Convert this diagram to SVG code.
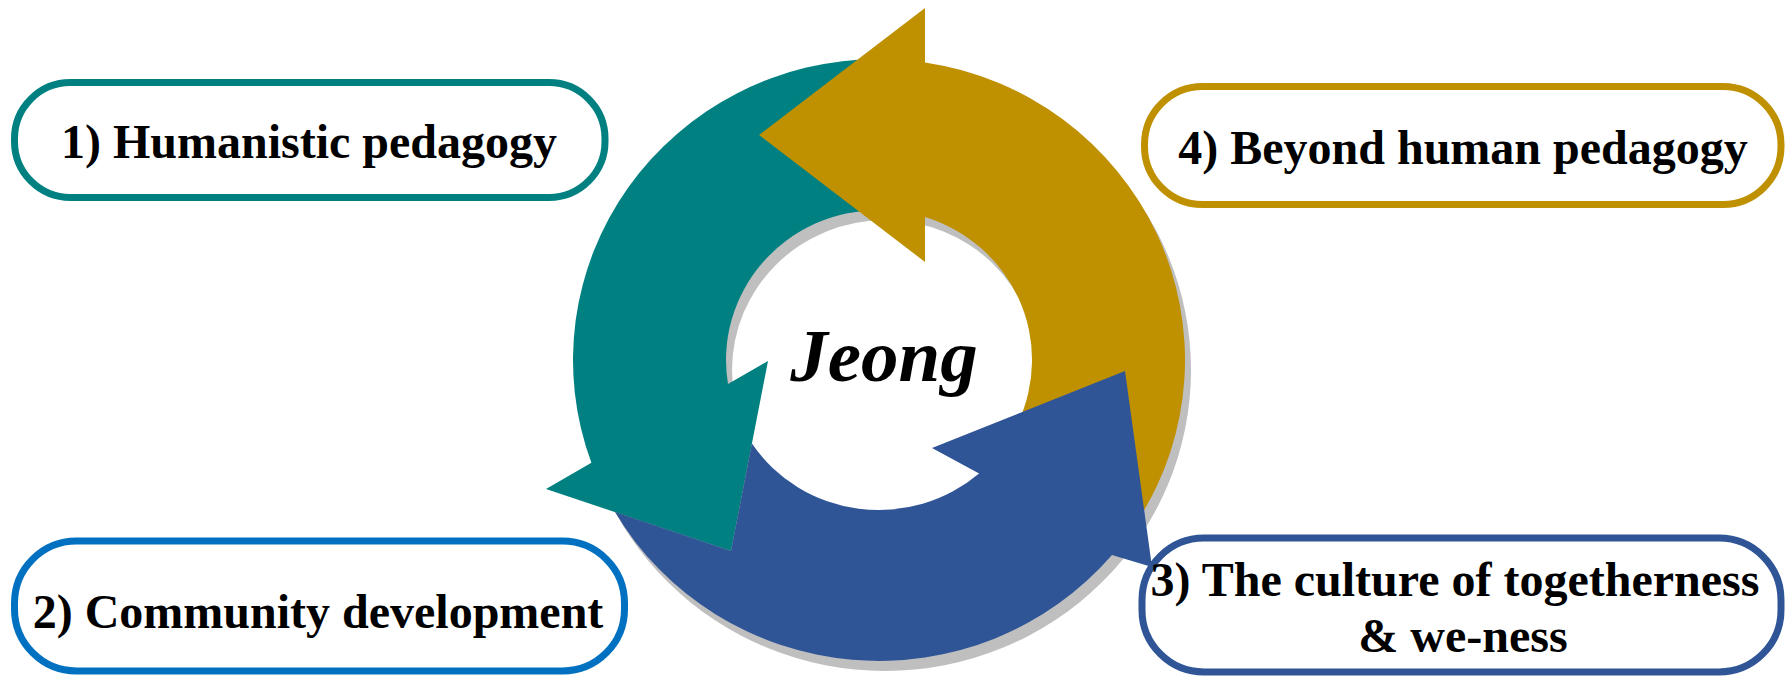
<svg xmlns="http://www.w3.org/2000/svg" width="1792" height="676" viewBox="0 0 1792 676">
  <style>
    .lbl { font-family: "Liberation Serif", "Times New Roman", serif; font-weight: bold; font-size: 48px; fill: #000; text-anchor: middle; }
    .box { fill: #fff; stroke-width: 7; }
    .center { font-family: "Liberation Serif", "Times New Roman", serif; font-weight: bold; font-style: italic; font-size: 75px; fill: #000; text-anchor: middle; }
  </style>
  <rect width="1792" height="676" fill="#fff"/>

  <g id="cycle">
    <path id="shadow" fill="#BFBFBF" fill-rule="evenodd" d="M 579 370 a 306 301 0 1 0 612 0 a 306 301 0 1 0 -612 0 Z M 732 370 a 153 150 0 1 0 306 0 a 153 150 0 1 0 -306 0 Z"/>
    <path id="arrow-teal" fill="#008080" d="M 879 59 A 306 301 0 0 0 591.4 462.8 L 546 489 L 731 551 L 768 361 L 728 384.1 A 153 150 0 0 1 879 210 Z"/>
    <path id="arrow-gold" fill="#BF9000" d="M 759 135 L 925 8 L 925 62.4 A 306 301 0 0 1 1138.5 519.5 L 1017.7 423.4 A 153 150 0 0 0 925 216.9 L 925 262 Z"/>
    <path id="arrow-blue" fill="#2F5597" d="M 615 512.1 A 306 301 0 0 0 1112 555 L 1152 567 L 1125 371 L 932 448 L 979.1 473.5 A 153 150 0 0 1 751.9 443.6 L 731 551 Z"/>
  </g>

  <g id="center-label">
    <text class="center" x="884" y="381">Jeong</text>
  </g>

  <g id="node1">
    <rect class="box" stroke="#008080" x="14.5" y="82.5" width="590.5" height="115" rx="56" ry="56"/>
    <text class="lbl" x="309" y="158">1) Humanistic pedagogy</text>
  </g>

  <g id="node4">
    <rect class="box" stroke="#BF9000" x="1144.5" y="86.5" width="636.5" height="118" rx="58" ry="58"/>
    <text class="lbl" x="1463" y="164">4) Beyond human pedagogy</text>
  </g>

  <g id="node2">
    <rect class="box" stroke="#0070C0" x="14.5" y="541" width="610" height="130" rx="62" ry="62"/>
    <text class="lbl" x="318" y="628">2) Community development</text>
  </g>

  <g id="node3">
    <rect class="box" stroke="#2F5597" x="1142" y="538" width="639" height="134" rx="62" ry="62"/>
    <text class="lbl" x="1455" y="596">3) The culture of togetherness</text>
    <text class="lbl" x="1463" y="652">&amp; we-ness</text>
  </g>
</svg>
